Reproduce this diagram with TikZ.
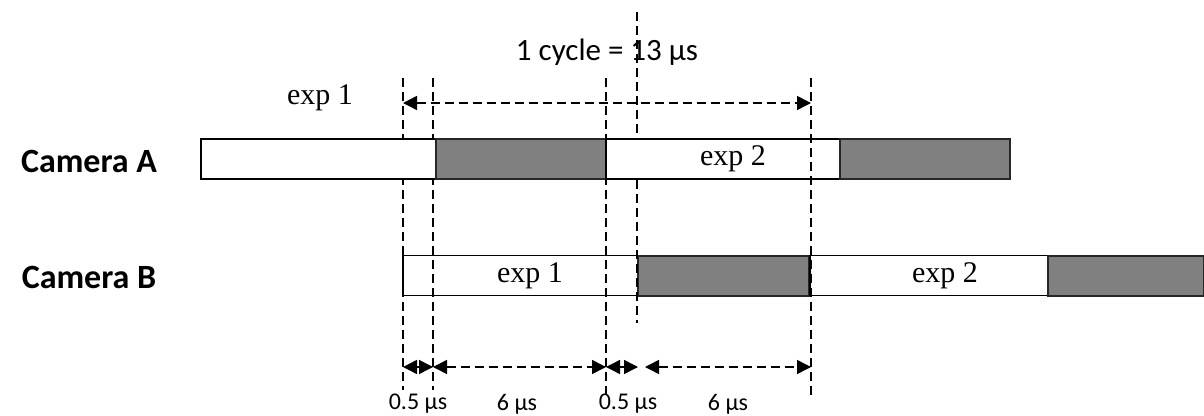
\documentclass[tikz,border=0pt]{standalone}
\usepackage{fontspec}
\setmainfont{Liberation Serif}
\newfontfamily\calib{Carlito}
\usetikzlibrary{arrows.meta}
\tikzset{
  whitebox/.style={draw=black, line width=1.5pt, fill=white, inner sep=0pt, minimum height=40pt},
  graybox/.style={draw=black!85, line width=2pt, fill=black!50, inner sep=0pt, minimum height=40pt},
  guide/.style={draw=black, line width=1.5pt, dash pattern=on 9pt off 5pt},
  dimarrow/.style={draw=black, line width=1.5pt, dash pattern=on 9pt off 5pt,
     {Triangle[length=14pt,width=14pt]}-{Triangle[length=14pt,width=14pt]}},
  solidarrow/.style={draw=black, line width=1.5pt,
     {Triangle[length=14pt,width=14pt]}-{Triangle[length=14pt,width=14pt]}},
  cam/.style={font=\calib\bfseries\fontsize{34}{38}\selectfont, inner sep=0pt},
  explabel/.style={font=\fontsize{30}{34}\selectfont, inner sep=0pt},
  title/.style={font=\calib\fontsize{31}{35}\selectfont, inner sep=0pt},
  small/.style={font=\calib\fontsize{24}{28}\selectfont, inner sep=0pt}
}
\begin{document}
\begin{tikzpicture}[x=1pt,y=-1pt]
\useasboundingbox (0,0) rectangle (1204,415);
% row B boxes
\node[whitebox, minimum width=235pt] (B1) at (520.5,275.5) {};
\node[graybox, minimum width=171pt] (B2) at (723.5,275.5) {};
\node[whitebox, minimum width=238pt] (B3) at (929,275.5) {};
\node[graybox, minimum width=156pt] (B4) at (1126,275.5) {};
% guide coordinates
\coordinate (g1t) at (403,78);  \coordinate (g1b) at (403,390);
\coordinate (g2t) at (433,78);  \coordinate (g2b) at (433,390);
\coordinate (g3t) at (606,78);  \coordinate (g3b) at (606,395);
\coordinate (g4t) at (637,12);  \coordinate (g4b) at (637,323);
\coordinate (g5t) at (811,78);  \coordinate (g5b) at (811,395);
\draw[guide] (g1t) -- (g1b);
\draw[guide] (g2t) -- (g2b);
\draw[guide] (g3t) -- (g3b);
\draw[guide] (g4t) -- (g4b);
% row A boxes
\node[whitebox, minimum width=235pt] (A1) at (318.5,159) {};
\node[graybox, minimum width=170pt] (A2) at (521,159) {};
\node[whitebox, minimum width=234pt] (A3) at (723,159) {};
\node[graybox, minimum width=170pt] (A4) at (925,159) {};
\draw[guide] (g5t) -- (g5b);
% labels
\node[cam] (camA) at (89,161) {Camera A};
\node[cam] (camB) at (89,277) {Camera B};
\node[explabel] (e1top) at (320,98) {exp 1};
\node[explabel] (eA2) at (733,159) {exp 2};
\node[explabel] (eB1) at (530,275.5) {exp 1};
\node[explabel] (eB2) at (945,275.5) {exp 2};
\node[title] (ttl) at (607,52) {1 cycle = 13 µs};
% top arrow
\coordinate (ta1) at (403,103); \coordinate (ta2) at (811,103);
\draw[dimarrow] (ta1) -- (ta2);
% bottom arrows
\coordinate (b1) at (403,367); \coordinate (b2) at (433,367);
\coordinate (b3) at (606,367); \coordinate (b4) at (638,367);
\coordinate (b5) at (645,367); \coordinate (b6) at (811,367);
\draw[solidarrow] (b1) -- (b2);
\draw[dimarrow] (b2) -- (b3);
\draw[solidarrow] (b3) -- (b4);
\draw[dimarrow] (b5) -- (b6);
\node[small] (l1) at (418,404) {0.5 µs};
\node[small] (l2) at (517,404) {6 µs};
\node[small] (l3) at (628,404) {0.5 µs};
\node[small] (l4) at (728,404) {6 µs};
\end{tikzpicture}
\end{document}
